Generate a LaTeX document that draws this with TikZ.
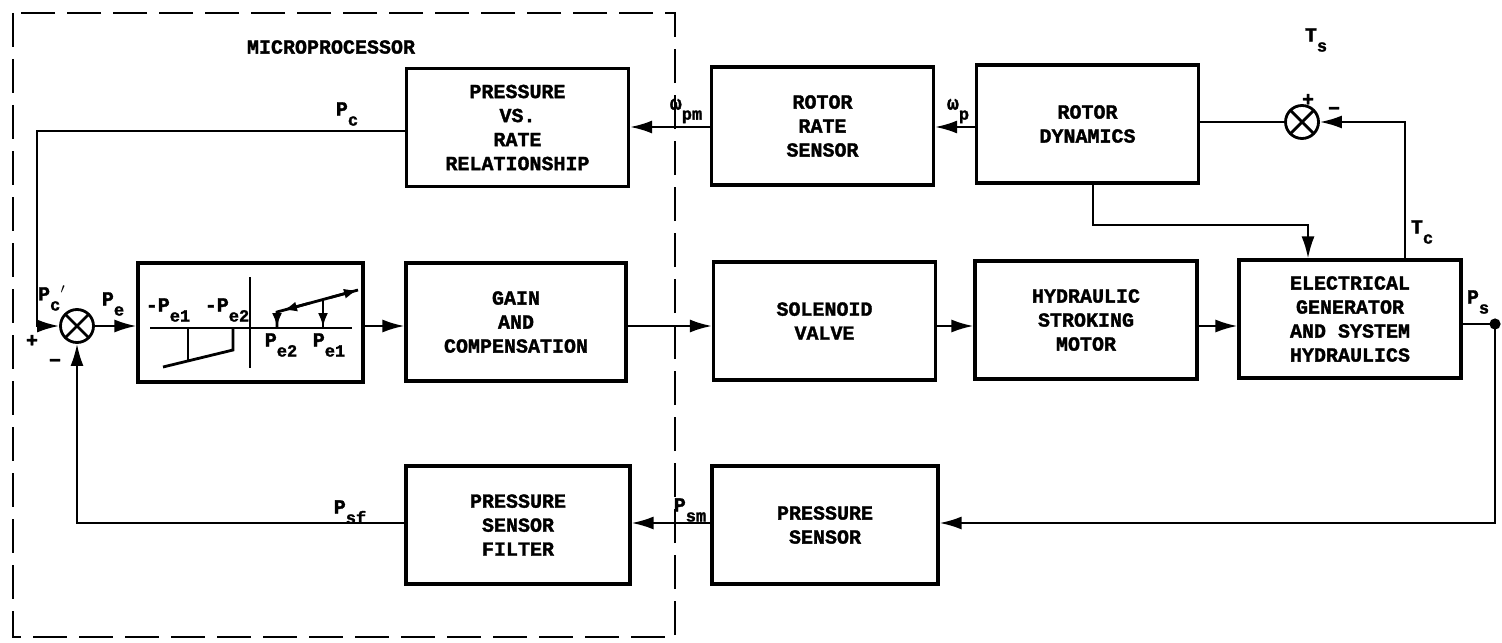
\documentclass[tikz,border=0pt]{standalone}
\usepackage{fontspec}
\newfontfamily\typew{Liberation Mono}[BoldFeatures={FakeBold=1.6}]
\usetikzlibrary{arrows.meta}
\newcommand{\blkfont}{\typew\bfseries\fontsize{10}{12}\selectfont}
\newcommand{\sg}[2]{#1\raisebox{-5pt}{\fontsize{8.5}{8.5}\selectfont#2}}
\tikzset{
  blk/.style={draw, line width=1.6pt, minimum width=111pt, minimum height=59pt,
    align=center, font=\blkfont, inner sep=0pt},
  sumj/.style={draw, circle, line width=1.4pt, minimum size=16.5pt, inner sep=0pt,
    path picture={\draw[line width=1.4pt]
      (path picture bounding box.north west) -- (path picture bounding box.south east)
      (path picture bounding box.south west) -- (path picture bounding box.north east);}},
  sig/.style={line width=1.1pt, -{Latex[length=11pt,width=6.5pt]}},
  wire/.style={line width=1.1pt},
  lbl/.style={font=\blkfont, inner sep=0pt},
  tip/.style={line width=1.3pt, -{Latex[length=7pt,width=5pt]}},
}
\begin{document}
\begin{tikzpicture}[x=0.5pt,y=-0.5pt]
  \useasboundingbox (0,0) rectangle (1502,642);
  % microprocessor boundary
  \draw[line width=1.4pt, dash pattern=on 17pt off 6pt] (13,13) rectangle (675,637);
  \node[lbl] (tmicro) at (331,47) {MICROPROCESSOR};

  % rows
  \coordinate (top) at (0,127);
  \coordinate (mid) at (0,326);
  \coordinate (bot) at (0,523);

  % top row
  \node[blk] (prv) at (517.5,127.5) {PRESSURE\\VS.\\RATE\\RELATIONSHIP};
  \node[blk] (rrs) at (822.5,126) {ROTOR\\RATE\\SENSOR};
  \node[blk] (rd) at (1087.5,124) {ROTOR\\DYNAMICS};
  \node[sumj] (s2) at (1302,122) {};

  % middle row
  \node[sumj] (s1) at (77,326) {};
  \node[blk, minimum width=112.5pt, minimum height=59.5pt] (nl) at (250.5,322.5) {};
  \node[blk, minimum width=110pt] (gain) at (516,322) {GAIN\\AND\\COMPENSATION};
  \node[blk] (sv) at (824.5,321) {SOLENOID\\VALVE};
  \node[blk] (hsm) at (1086,320) {HYDRAULIC\\STROKING\\MOTOR};
  \node[blk] (gen) at (1350,319) {ELECTRICAL\\GENERATOR\\AND SYSTEM\\HYDRAULICS};

  % bottom row
  \node[blk, minimum width=112pt] (psf) at (518,525) {PRESSURE\\SENSOR\\FILTER};
  \node[blk, minimum width=113pt] (ps) at (825,525) {PRESSURE\\SENSOR};

  % hysteresis characteristic
  \begin{scope}[line width=1.4pt]
    \draw (150,328) -- (352,328);
    \draw (250,277) -- (250,368);
    \draw (163,367) -- (233,350) -- (233,328);
    \draw (188,361) -- (188,328);
    \draw (277,328) -- (277,312) -- (358,290);
    \draw (323,300) -- (323,328);
    \draw[tip] (277,312) -- (277,327);
    \draw[tip] (323,300) -- (323,327);
    \draw[tip] (310,303) -- (283,310.3);
    \draw[tip] (330,297.6) -- (358,290);
  \end{scope}
  \node[lbl] (lpe1n) at (168,310) {-\sg{P}{e1}};
  \node[lbl] (lpe2n) at (227,310) {-\sg{P}{e2}};
  \node[lbl] (lpe2) at (281,345) {\sg{P}{e2}};
  \node[lbl] (lpe1) at (329,345) {\sg{P}{e1}};

  % forward path
  \coordinate (pcx) at (37,0);
  \coordinate (psdot) at (1495,324);
  \draw[sig] (s1.east) -- (s1.east -| nl.west);
  \draw[sig] (nl.east |- mid) -- (gain.west |- mid);
  \draw[sig] (gain.east |- mid) -- (sv.west |- mid);
  \draw[sig] (sv.east |- mid) -- (hsm.west |- mid);
  \draw[sig] (hsm.east |- mid) -- (gen.west |- mid);
  \draw[wire] (gen.east |- psdot) -- (psdot);
  \fill (psdot) circle (2.8pt);

  % feedback paths
  \draw[sig] (psdot) |- (ps.east |- bot);
  \draw[sig] (ps.west |- bot) -- (psf.east |- bot);
  \draw[sig] (psf.west |- bot) -| (s1.south);
  \draw[sig] (rd.west |- top) -- (rrs.east |- top);
  \draw[sig] (rrs.west |- top) -- (prv.east |- top);
  \draw[sig] (prv.west |- 0,131) -- (pcx |- 0,131) -- (pcx |- s1) -- (s1.west);

  % torque loop
  \coordinate (tcx) at (1405,0);
  \coordinate (rdx) at (1093,0);
  \coordinate (genx) at (1308,0);
  \coordinate (rdy) at (0,225);
  \draw[wire] (rd.east |- s2) -- (s2.west);
  \draw[sig] (gen.north -| tcx) |- (s2.east);
  \draw[sig] (rd.south -| rdx) |- (genx |- rdy) -- (gen.north -| genx);

  % signal labels
  \node[lbl] (tpc) at (347,114) {\sg{P}{c}};
  \node[lbl] (tpcp) at (52,298) {\sg{P}{c}$'$};
  \node[lbl] (tpe) at (113,304) {\sg{P}{e}};
  \node[lbl] (tpsf) at (350,512) {\sg{P}{sf}};
  \node[lbl] (tpsm) at (690,510) {\sg{P}{sm}};
  \node[lbl] (twpm) at (686,111) {\sg{ω}{pm}};
  \node[lbl] (twp) at (958,111) {\sg{ω}{p}};
  \node[lbl] (tts) at (1316,40) {\sg{T}{s}};
  \node[lbl] (ttc) at (1422,232) {\sg{T}{c}};
  \node[lbl] (tps) at (1478,302) {\sg{P}{s}};
  \node[lbl] (tplus1) at (32,341) {+};
  \node[lbl] (tminus1) at (55,363) {−};
  \node[lbl] (tplus2) at (1308,100) {+};
  \node[lbl] (tminus2) at (1334,111) {−};
\end{tikzpicture}
\end{document}
